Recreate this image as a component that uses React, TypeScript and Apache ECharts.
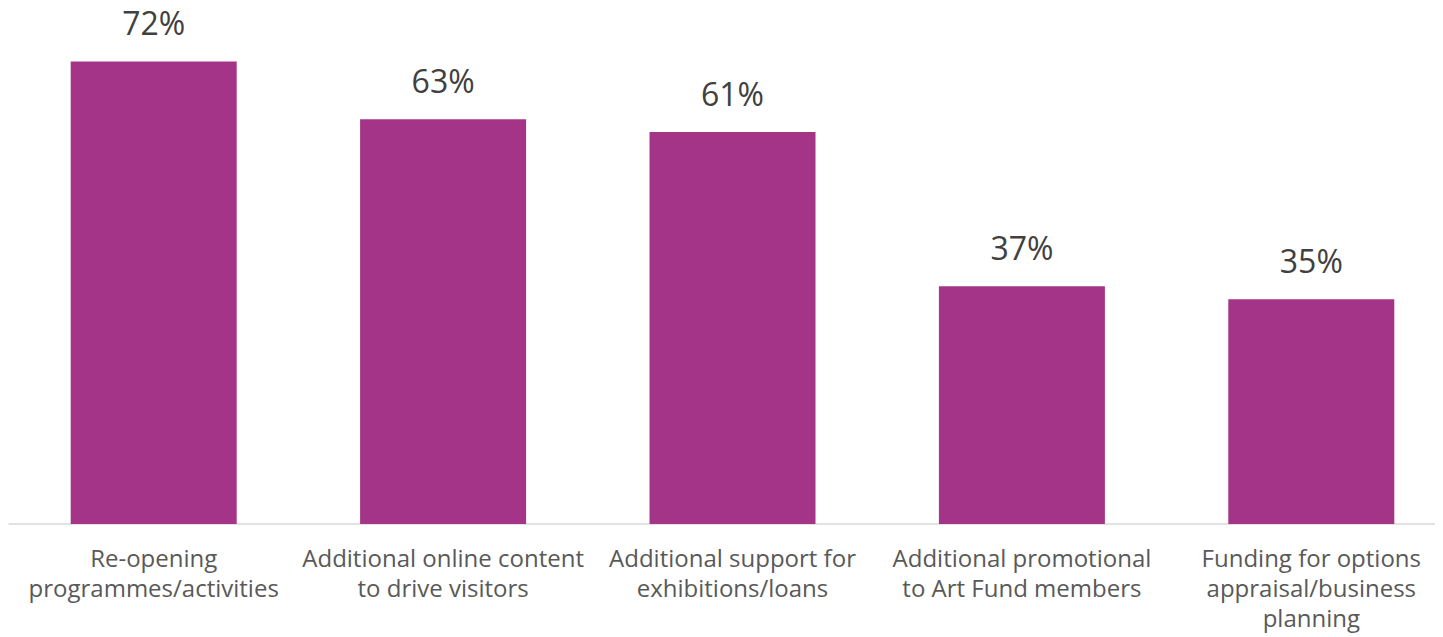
import React, { useEffect, useRef } from "react";
import * as echarts from "echarts";

const categories = [
  "Re-opening\nprogrammes/activities",
  "Additional online content\nto drive visitors",
  "Additional support for\nexhibitions/loans",
  "Additional promotional\nto Art Fund members",
  "Funding for options\nappraisal/business\nplanning",
];
const values = [72, 63, 61, 37, 35];

export default function App() {
  const ref = useRef<HTMLDivElement>(null);
  useEffect(() => {
    document.body.style.overflow = "hidden";
    const chart = echarts.init(ref.current!, null, { renderer: "svg" });
    chart.setOption({
      animation: false,
      grid: { left: 9, top: 10, right: 0, height: 514 },
      xAxis: {
        type: "category",
        data: categories,
        axisLine: { lineStyle: { color: "#d9d9d9", width: 1.5 } },
        axisTick: { show: false },
        axisLabel: {
          interval: 0,
          color: "#595959",
          fontSize: 24,
          lineHeight: 30,
          margin: 18,
          fontFamily: "'Open Sans', Lato, sans-serif",
        },
      },
      yAxis: {
        type: "value",
        min: 0,
        max: 80,
        show: false,
        splitLine: { show: false },
      },
      series: [
        {
          type: "bar",
          data: values,
          barWidth: 166,
          itemStyle: { color: "#a43487" },
          label: {
            show: true,
            position: "top",
            distance: 26,
            formatter: "{c}%",
            color: "#404040",
            fontSize: 32,
            lineHeight: 26,
            fontFamily: "'Open Sans', Lato, sans-serif",
          },
        },
      ],
    });
    return () => chart.dispose();
  }, []);
  return (
    <div style={{ margin: "-8px 0 0 -8px", width: 1443, height: 637, overflow: "hidden" }}>
      <div ref={ref} style={{ width: 1456, height: 637 }} />
    </div>
  );
}
